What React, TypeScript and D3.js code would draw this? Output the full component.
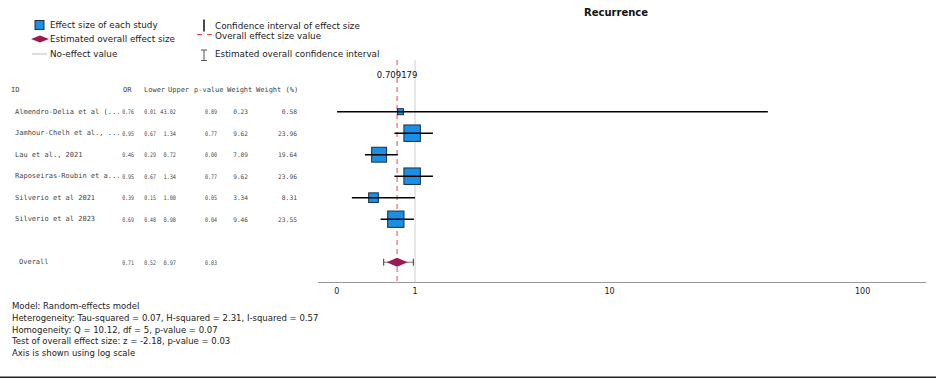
import React from "react";
import * as d3 from "d3";

const studies = [
  "Almendro-Delia et al (...",
  "Jamhour-Chelh et al., ...",
  "Lau et al., 2021",
  "Raposeiras-Roubin et a...",
  "Silverio et al 2021",
  "Silverio et al 2023",
];
const orValues = [0.76, 0.95, 0.46, 0.95, 0.39, 0.69];
const lowerValues = [0.01, 0.67, 0.29, 0.67, 0.15, 0.48];
const upperValues = [43.02, 1.34, 0.72, 1.34, 1.0, 0.98];
const pValues = [0.89, 0.77, 0.0, 0.77, 0.05, 0.04];
const weights = [0.23, 9.62, 7.89, 9.62, 3.34, 9.46];
const weightPct = [0.58, 23.96, 19.64, 23.96, 8.31, 23.55];

const overallLabel = "Overall";
const overallOR = 0.709179;
const overallLower = 0.52;
const overallUpper = 0.97;
const overallP = 0.03;

const tickValues = [0, 1, 10, 100];
const headers = ["ID", "OR", "Lower", "Upper", "p-value", "Weight", "Weight (%)"];

const footnotes = [
  "Model: Random-effects model",
  "Heterogeneity: Tau-squared = 0.07, H-squared = 2.31, I-squared = 0.57",
  "Homogeneity: Q = 10.12, df = 5, p-value = 0.07",
  "Test of overall effect size: z = -2.18, p-value = 0.03",
  "Axis is shown using log scale",
];

const title = "Recurrence";

const SANS = "'DejaVu Sans', sans-serif";
const MONO = "'DejaVu Sans Mono', 'Liberation Mono', monospace";

export default function App() {
  const x = d3.scaleSymlog().constant(1).domain([-0.17, 175]).range([318, 926]);
  const y = d3.scaleLinear().domain([-1, 7]).range([90.2, 262.2]);
  const side = d3.scaleSqrt().domain([0, 24]).range([0, 16.5]);
  const f2 = d3.format(".2f");
  const axisY = 282.5;
  const overallRow = 7;

  const headerX = [11, 123, 144, 168, 194, 227, 256];
  const colRight = [134, 156, 176, 217, 248, 297];
  const charW = [2.95, 2.95, 3.15, 3.0, 3.7, 3.8];

  const diamond = (cx: number, cy: number, hw: number, hh: number) =>
    `M${cx - hw},${cy} L${cx},${cy - hh} L${cx + hw},${cy} L${cx},${cy + hh} Z`;

  const num = (v: number, j: number, yy: number, key: string) => {
    const s = f2(v);
    return (
      <text key={key} x={colRight[j] - s.length * charW[j]} y={yy} dominantBaseline="central"
        fontSize={6.3} textLength={s.length * charW[j]} lengthAdjust="spacingAndGlyphs">{s}</text>
    );
  };

  return (
    <svg
      width={936}
      height={378}
      style={{ position: "absolute", left: 0, top: 0, background: "#fff" }}
    >
      {/* Title */}
      <text x={616} y={12} textAnchor="middle" dominantBaseline="central"
        fontFamily={SANS} fontWeight="bold" fontSize={10} fill="#111">{title}</text>

      {/* Legend */}
      <g fontFamily={SANS} fontSize={8.8} fill="#222">
        <rect x={35} y={20.5} width={9} height={9} fill="#1a8fe3" stroke="#1c2f45" strokeWidth={1} />
        <text x={50} y={25} dominantBaseline="central">Effect size of each study</text>
        <path d={diamond(40, 39, 9, 3.5)} fill="#9b1b50" />
        <text x={50} y={39} dominantBaseline="central">Estimated overall effect size</text>
        <line x1={32} x2={47} y1={54} y2={54} stroke="#bbb" strokeWidth={1} />
        <text x={50} y={54} dominantBaseline="central">No-effect value</text>

        <line x1={204} x2={204} y1={19.5} y2={31.5} stroke="#111" strokeWidth={1.5} />
        <text x={215} y={25.5} dominantBaseline="central">Confidence interval of effect size</text>
        <line x1={197} x2={212} y1={34.5} y2={34.5} stroke="#e8474b" strokeWidth={1} strokeDasharray="5,5" />
        <text x={215} y={36} dominantBaseline="central">Overall effect size value</text>
        <g stroke="#555" strokeWidth={1}>
          <line x1={204} x2={204} y1={50} y2={60.5} />
          <line x1={201} x2={207} y1={50} y2={50} />
          <line x1={201} x2={207} y1={60.5} y2={60.5} />
        </g>
        <text x={215} y={54} dominantBaseline="central">Estimated overall confidence interval</text>
      </g>

      {/* Table */}
      <g fontFamily={MONO} fontSize={7} fill="#444">
        {headers.map((h, i) => (
          <text key={h} x={headerX[i]} y={y(-1)} dominantBaseline="central" style={{ whiteSpace: "pre" }}>{h}</text>
        ))}
        {studies.map((s, i) => {
          const vals = [orValues[i], lowerValues[i], upperValues[i], pValues[i], weights[i], weightPct[i]];
          return (
            <g key={s}>
              <text x={15} y={y(i)} dominantBaseline="central">{s}</text>
              {vals.map((v, j) => num(v, j, y(i), String(j)))}
            </g>
          );
        })}
        <text x={19} y={y(overallRow)} dominantBaseline="central">{overallLabel}</text>
        {[overallOR, overallLower, overallUpper, overallP].map((v, j) => num(v, j, y(overallRow), "o" + j))}
      </g>

      {/* No-effect line */}
      <line x1={x(1)} x2={x(1)} y1={60} y2={axisY} stroke="#cfcfcf" strokeWidth={1} />
      {/* Overall estimate dashed line */}
      <line x1={x(overallOR)} x2={x(overallOR)} y1={60} y2={axisY} stroke="#e8474b" strokeWidth={1} strokeDasharray="5,4" />
      <text x={x(overallOR)} y={75} textAnchor="middle" dominantBaseline="central"
        fontFamily={SANS} fontSize={8.5} fill="#111">{String(overallOR)}</text>

      {/* Study boxes and CIs */}
      {studies.map((s, i) => {
        const sz = Math.max(6, side(weightPct[i]));
        const cx = x(orValues[i]);
        const cy = y(i);
        return (
          <g key={s}>
            <rect x={cx - sz / 2} y={cy - sz / 2} width={sz} height={sz}
              fill="#1a8fe3" stroke="#1c2f45" strokeWidth={1} />
            <line x1={x(lowerValues[i])} x2={x(upperValues[i])} y1={cy} y2={cy}
              stroke="#000" strokeWidth={1.5} />
          </g>
        );
      })}

      {/* Overall */}
      <g>
        <line x1={x(overallLower)} x2={x(overallUpper)} y1={y(overallRow)} y2={y(overallRow)} stroke="#777" strokeWidth={1} />
        <line x1={x(overallLower)} x2={x(overallLower)} y1={y(overallRow) - 3.5} y2={y(overallRow) + 3.5} stroke="#333" strokeWidth={1} />
        <line x1={x(overallUpper)} x2={x(overallUpper)} y1={y(overallRow) - 3.5} y2={y(overallRow) + 3.5} stroke="#333" strokeWidth={1} />
        <path d={diamond(x(overallOR), y(overallRow), 10.5, 4.5)} fill="#9b1b50" />
      </g>

      {/* Axis */}
      <line x1={318} x2={926} y1={axisY} y2={axisY} stroke="#999" strokeWidth={1} />
      {tickValues.map((t) => (
        <text key={t} x={x(t) + (t === 0 ? 1 : 0)} y={291} textAnchor="middle" dominantBaseline="central"
          fontFamily={SANS} fontSize={8} fill="#222">{String(t)}</text>
      ))}

      {/* Footnotes */}
      <g fontFamily={SANS} fontSize={8.5} fill="#222">
        {footnotes.map((fn, i) => (
          <text key={i} x={12} y={305.7 + i * 11.9} dominantBaseline="central">{fn}</text>
        ))}
      </g>

      <line x1={0} x2={936} y1={377.2} y2={377.2} stroke="#222" strokeWidth={1.5} />
    </svg>
  );
}
